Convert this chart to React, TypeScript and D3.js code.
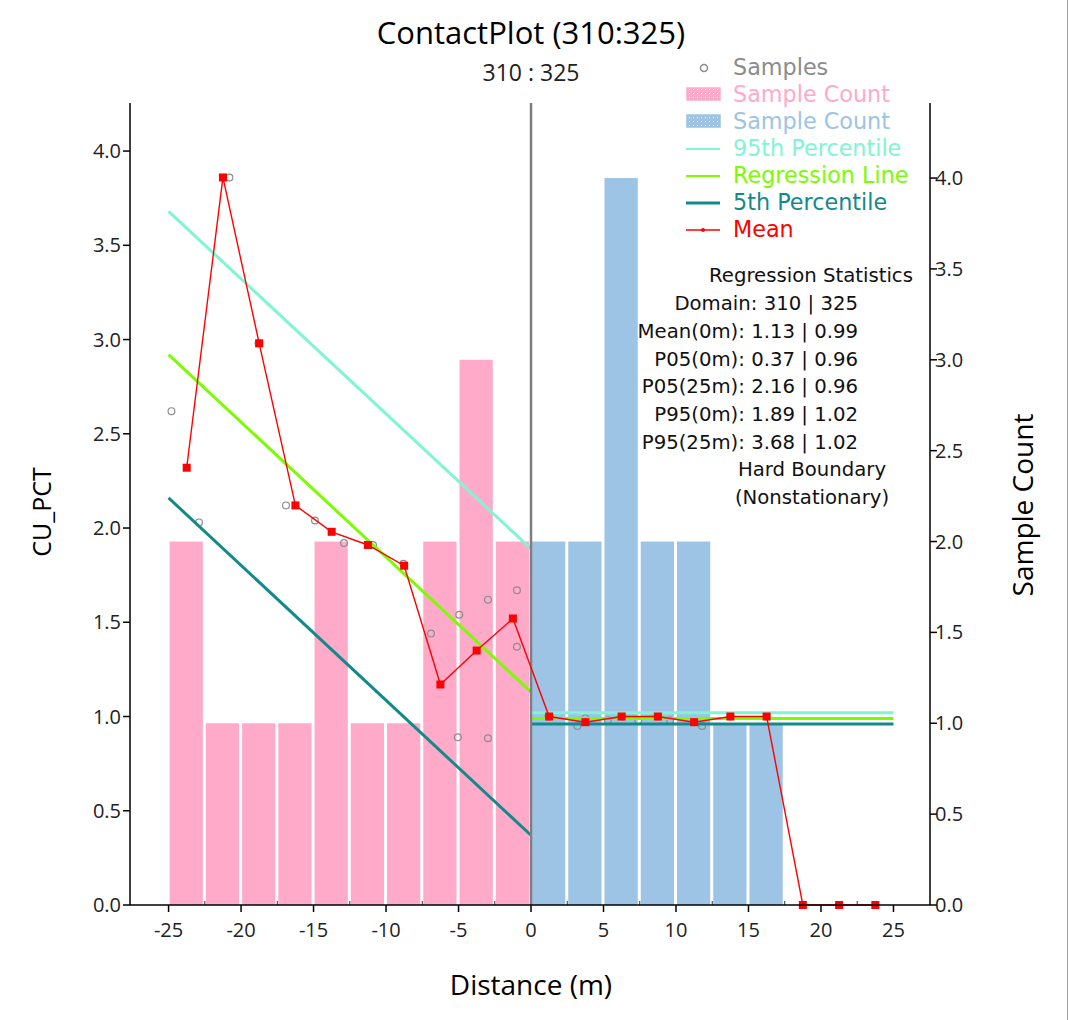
import * as d3 from 'd3';

// ---- data ----
const pinkBinStart = [-25, -22.5, -20, -17.5, -15, -12.5, -10, -7.5, -5, -2.5];
const pinkCounts = [2, 1, 1, 1, 2, 1, 1, 2, 3, 2];
const blueBinStart = [0, 2.5, 5, 7.5, 10, 12.5, 15];
const blueCounts = [2, 2, 4, 2, 2, 1, 1];
const binWidth = 2.5;

const sampleX = [-24.8, -22.9, -20.8, -18.8, -16.9, -14.9, -12.9, -10.9, -8.8, -6.9, -5.05, -4.95, -2.97, -2.97, -0.97, -0.97,
  1.2, 1.3, 3.2, 3.75, 5.3, 6.25, 6.3, 7.4, 8.75, 9.6, 11.25, 11.8, 13.75, 16.25];
const sampleY = [2.62, 2.03, 3.86, 2.98, 2.12, 2.04, 1.92, 1.91, 1.81, 1.44, 0.89, 1.54, 1.62, 0.885, 1.67, 1.37,
  1.0, 1.0, 0.95, 0.99, 0.98, 1.0, 1.0, 0.98, 1.0, 0.98, 0.97, 0.95, 1.0, 1.0];

const meanX = [-23.75, -21.25, -18.75, -16.25, -13.75, -11.25, -8.75, -6.25, -3.75, -1.25,
  1.25, 3.75, 6.25, 8.75, 11.25, 13.75, 16.25, 18.75, 21.25, 23.75];
const meanY = [2.32, 3.86, 2.98, 2.12, 1.98, 1.91, 1.8, 1.17, 1.35, 1.52,
  1.0, 0.97, 1.0, 1.0, 0.97, 1.0, 1.0, 0, 0, 0];

// percentile / regression lines: [value at start, value at end]
const leftSpan = [-25, 0];
const rightSpan = [0, 25];
const p95Left = [3.68, 1.89];
const p95Right = [1.02, 1.02];
const regLeft = [2.92, 1.13];
const regRight = [0.99, 0.99];
const p05Left = [2.16, 0.37];
const p05Right = [0.96, 0.96];

const xTicks = [-25, -20, -15, -10, -5, 0, 5, 10, 15, 20, 25];
const xMinorTicks = [-22.5, -17.5, -12.5, -7.5, -2.5, 2.5, 7.5, 12.5, 17.5, 22.5];
const yTicks = [0, 0.5, 1, 1.5, 2, 2.5, 3, 3.5, 4];
const countTicks = [0, 0.5, 1, 1.5, 2, 2.5, 3, 3.5, 4];

const legendLabels = ['Samples', 'Sample Count', 'Sample Count', '95th Percentile', 'Regression Line', '5th Percentile', 'Mean'];
const statsTitle = 'Regression Statistics';
const statsLines = [
  'Domain: 310 | 325',
  'Mean(0m): 1.13 | 0.99',
  'P05(0m): 0.37 | 0.96',
  'P05(25m): 2.16 | 0.96',
  'P95(0m): 1.89 | 1.02',
  'P95(25m): 3.68 | 1.02',
];
const statsFooter = ['Hard Boundary', '(Nonstationary)'];

const C = {
  pink: '#ffaac9',
  blue: '#9dc3e5',
  p95: '#80f5d4',
  reg: '#7cfc00',
  p05: '#138a8a',
  mean: '#ff0000',
  sample: '#8c8c8c',
};
const legendColors = ['#8c8c8c', '#ffaac9', '#9dc3e5', '#80f5d4', '#7cfc00', '#138a8a', '#ff0000'];

const W = 1068;
const H = 1020;
const plot = { left: 130, right: 930, top: 103, bottom: 905 };
const TXT = '"DejaVu Sans", Verdana, sans-serif';
const LBL = '"Open Sans", "Segoe UI", sans-serif';

export default function App() {
  const x = d3.scaleLinear().domain([-27.66, 27.52]).range([plot.left, plot.right]);
  const y = d3.scaleLinear().domain([0, 4.255]).range([plot.bottom, plot.top]);
  const yc = d3.scaleLinear().domain([0, 4.413]).range([plot.bottom, plot.top]);

  const bar = (start: number, count: number, fill: string, key: string) => (
    <rect key={key} x={x(start) + 1} y={yc(count)} width={x(start + binWidth) - x(start) - 3}
      height={plot.bottom - yc(count)} fill={fill} />
  );
  const seg = (span: number[], vals: number[], color: string, key: string) => (
    <line key={key} x1={x(span[0])} x2={x(span[1])} y1={y(vals[0])} y2={y(vals[1])} stroke={color} strokeWidth={3} />
  );
  const meanLine = d3.line<number>().x((_, i) => x(meanX[i])).y((d) => y(d))(meanY) ?? '';

  const legendX = 686;
  const legendY0 = 67;
  const legendStep = 27;

  return (
    <svg width={W} height={H} style={{ position: 'absolute', left: 0, top: 0, background: '#fff' }}>
      <defs>
        <pattern id="dots-pink" width="4" height="4" patternUnits="userSpaceOnUse">
          <rect width="4" height="4" fill={C.pink} />
          <rect x="1" y="1" width="1" height="1" fill="#fff" opacity="0.8" />
        </pattern>
        <pattern id="dots-blue" width="4" height="4" patternUnits="userSpaceOnUse">
          <rect width="4" height="4" fill={C.blue} />
          <rect x="1" y="1" width="1" height="1" fill="#fff" opacity="0.8" />
        </pattern>
      </defs>

      {/* title */}
      <text x={531} y={44} textAnchor="middle" fontFamily={LBL} fontSize={31} fill="#000">ContactPlot (310:325)</text>
      <text x={531} y={81} textAnchor="middle" fontFamily={LBL} fontSize={23} fill="#222">310 : 325</text>

      {/* bars */}
      {pinkBinStart.map((s, i) => bar(s, pinkCounts[i], C.pink, `p${i}`))}
      {blueBinStart.map((s, i) => bar(s, blueCounts[i], C.blue, `b${i}`))}

      {/* minor ticks at bin edges */}
      {xMinorTicks.map((t) => (
        <line key={`m${t}`} x1={x(t)} x2={x(t)} y1={plot.bottom} y2={plot.bottom - 4} stroke="#333" strokeWidth={1} />
      ))}

      {/* samples */}
      {sampleX.map((sx, i) => (
        <circle key={`s${i}`} cx={x(sx)} cy={y(sampleY[i])} r={3.4} fill="none" stroke={C.sample} strokeWidth={1.2} />
      ))}

      {/* percentile and regression lines */}
      {seg(leftSpan, p95Left, C.p95, 'l95')}
      {seg(rightSpan, p95Right, C.p95, 'r95')}
      {seg(leftSpan, regLeft, C.reg, 'lreg')}
      {seg(rightSpan, regRight, C.reg, 'rreg')}
      {seg(leftSpan, p05Left, C.p05, 'l05')}
      {seg(rightSpan, p05Right, C.p05, 'r05')}

      {/* boundary */}
      <line x1={x(0)} x2={x(0)} y1={plot.top} y2={plot.bottom} stroke="#7f7f7f" strokeWidth={2.5} />

      {/* mean */}
      <path d={meanLine} fill="none" stroke={C.mean} strokeWidth={1.4} />
      {meanX.map((mx, i) => (
        <rect key={`mm${i}`} x={x(mx) - 4} y={y(meanY[i]) - 4} width={8} height={8} fill={C.mean} />
      ))}

      {/* axes */}
      <g fontFamily={LBL} fontSize={20} fill="#222">
        <line x1={plot.left} x2={plot.right} y1={plot.bottom} y2={plot.bottom} stroke="#000" strokeWidth={1.5} />
        <line x1={plot.left} x2={plot.left} y1={plot.top} y2={plot.bottom} stroke="#000" strokeWidth={1.5} />
        <line x1={plot.right} x2={plot.right} y1={plot.top} y2={plot.bottom} stroke="#000" strokeWidth={1.5} />
        {xTicks.map((t) => (
          <g key={`xt${t}`}>
            <line x1={x(t)} x2={x(t)} y1={plot.bottom} y2={plot.bottom + 7} stroke="#000" strokeWidth={1.5} />
            <text x={x(t)} y={937} textAnchor="middle">{t}</text>
          </g>
        ))}
        {yTicks.map((t) => (
          <g key={`yt${t}`}>
            <line x1={plot.left - 7} x2={plot.left} y1={y(t)} y2={y(t)} stroke="#000" strokeWidth={1.5} />
            <text x={plot.left - 9} y={y(t) + 7} textAnchor="end">{t.toFixed(1)}</text>
          </g>
        ))}
        {countTicks.map((t) => (
          <g key={`ct${t}`}>
            <line x1={plot.right} x2={plot.right + 7} y1={yc(t)} y2={yc(t)} stroke="#000" strokeWidth={1.5} />
            <text x={plot.right + 5} y={yc(t) + 7} textAnchor="start">{t.toFixed(1)}</text>
          </g>
        ))}
      </g>

      {/* axis titles */}
      <text x={531} y={995} textAnchor="middle" fontFamily={LBL} fontSize={28} fill="#000">Distance (m)</text>
      <text transform="translate(51,512) rotate(-90)" textAnchor="middle" fontFamily={LBL} fontSize={25} fill="#000">CU_PCT</text>
      <text transform="translate(1033,505) rotate(-90)" textAnchor="middle" fontFamily={LBL} fontSize={28} fill="#000">Sample Count</text>

      {/* legend */}
      <g fontFamily={TXT} fontSize={22.3}>
        {legendLabels.map((lab, i) => {
          const cy = legendY0 + i * legendStep;
          let marker;
          if (i === 0) marker = <circle cx={legendX + 18} cy={cy + 1} r={3.5} fill="none" stroke={legendColors[0]} strokeWidth={1.5} />;
          else if (i === 1 || i === 2)
            marker = <rect x={legendX + 1} y={cy - 6} width={33} height={12} fill={i === 1 ? 'url(#dots-pink)' : 'url(#dots-blue)'}
              stroke={legendColors[i]} strokeWidth={1.5} />;
          else if (i === 6)
            marker = (
              <g>
                <line x1={legendX} x2={legendX + 34} y1={cy + 1} y2={cy + 1} stroke={legendColors[i]} strokeWidth={1.5} />
                <circle cx={legendX + 17} cy={cy + 1} r={2} fill={legendColors[i]} />
              </g>
            );
          else
            marker = <line x1={legendX} x2={legendX + 34} y1={cy + 1} y2={cy + 1} stroke={legendColors[i]} strokeWidth={i === 5 ? 3 : 2} />;
          return (
            <g key={`lg${i}`}>
              {marker}
              <text x={733} y={cy + 8} fill={legendColors[i]}>{lab}</text>
            </g>
          );
        })}
      </g>

      {/* regression statistics */}
      <g fontFamily={TXT} fontSize={19.7} fill="#111">
        <text x={811} y={282} textAnchor="middle">{statsTitle}</text>
        {statsLines.map((s, i) => (
          <text key={`st${i}`} x={858} y={310 + i * 27.8} textAnchor="end">{s}</text>
        ))}
        {statsFooter.map((s, i) => (
          <text key={`sf${i}`} x={812} y={476 + i * 27.8} textAnchor="middle">{s}</text>
        ))}
      </g>

      {/* window border */}
      <line x1={1067.5} x2={1067.5} y1={0} y2={H} stroke="#a0a0a0" strokeWidth={1} />
    </svg>
  );
}
